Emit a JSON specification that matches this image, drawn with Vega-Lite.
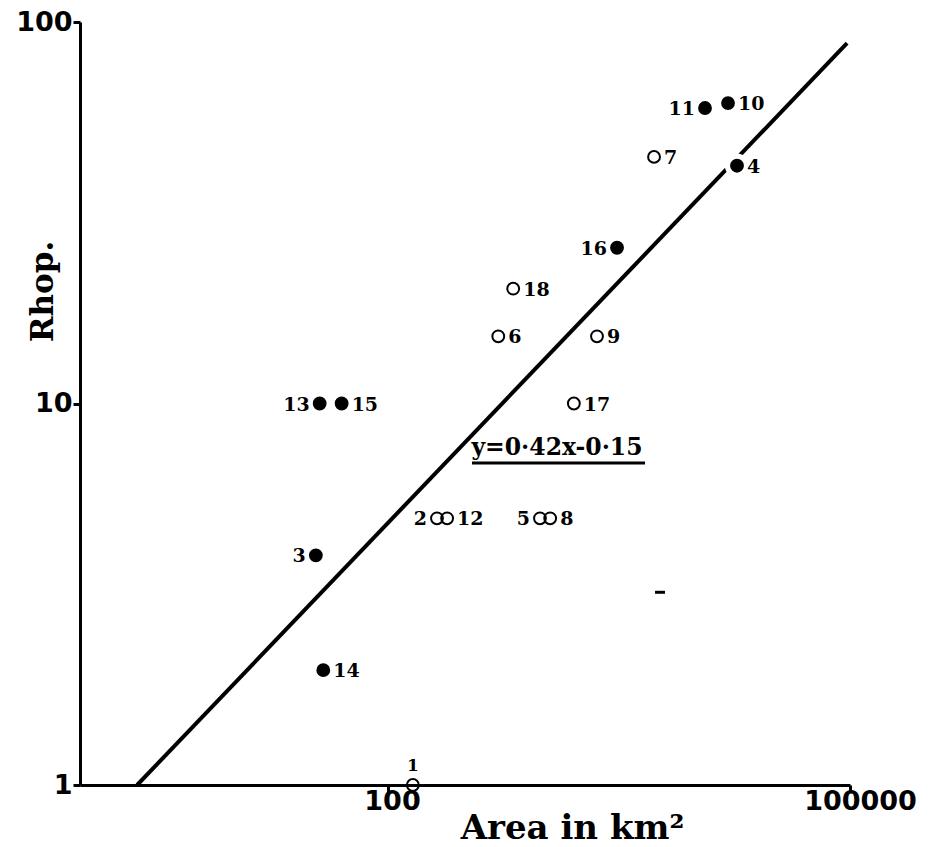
{
  "$schema": "https://vega.github.io/schema/vega-lite/v6.json",
  "width": 770,
  "height": 763,
  "autosize": {"type": "none"},
  "padding": {"left": 80, "top": 22, "right": 89, "bottom": 62},
  "background": "white",
  "config": {"view": {"stroke": null}},
  "datasets": {
    "stations": [
      {"id": "1", "area": 145, "rhop": 1, "symbol": "open"},
      {"id": "2", "area": 208, "rhop": 5, "symbol": "open"},
      {"id": "3", "area": 34, "rhop": 4, "symbol": "filled"},
      {"id": "4", "area": 18460, "rhop": 42, "symbol": "filled"},
      {"id": "5", "area": 970, "rhop": 5, "symbol": "open"},
      {"id": "6", "area": 520, "rhop": 15, "symbol": "open"},
      {"id": "7", "area": 5340, "rhop": 44.3, "symbol": "open"},
      {"id": "8", "area": 1130, "rhop": 5, "symbol": "open"},
      {"id": "9", "area": 2275, "rhop": 15, "symbol": "open"},
      {"id": "10", "area": 16140, "rhop": 61.3, "symbol": "filled"},
      {"id": "11", "area": 11440, "rhop": 59.5, "symbol": "filled"},
      {"id": "12", "area": 242, "rhop": 5, "symbol": "open"},
      {"id": "13", "area": 36, "rhop": 10, "symbol": "filled"},
      {"id": "14", "area": 38, "rhop": 2, "symbol": "filled"},
      {"id": "15", "area": 50, "rhop": 10, "symbol": "filled"},
      {"id": "16", "area": 3070, "rhop": 25.6, "symbol": "filled"},
      {"id": "17", "area": 1610, "rhop": 10, "symbol": "open"},
      {"id": "18", "area": 650, "rhop": 20, "symbol": "open"}
    ],
    "fit": [{"area": 2.35, "rhop": 1}, {"area": 95700, "rhop": 88}],
    "eq": [{"area": 1251, "rhop": 7.64, "label": "y=0·42x-0·15"}],
    "underline": [{"area": 351, "area2": 4667, "rhop": 6.98}],
    "speck": [{"area": 5420, "area2": 6290, "rhop": 3.2}]
  },
  "encoding": {
    "x": {
      "field": "area",
      "type": "quantitative",
      "scale": {"type": "log", "domain": [1, 100000]},
      "axis": {
        "title": "Area in km²",
        "values": [100, 100000],
        "format": "d",
        "grid": false,
        "labelFlush": false,
        "labelOverlap": false,
        "domainWidth": 3,
        "domainColor": "black",
        "tickColor": "black",
        "tickWidth": 3,
        "tickSize": 7,
        "encode": {"ticks": {"update": {"y2": {"value": -7}}}},
        "labelFont": "DejaVu Sans",
        "labelFontWeight": "bold",
        "labelFontSize": 27,
        "labelColor": "black",
        "labelPadding": -4,
        "labelOffset": {"condition": {"test": "datum.value == 100000", "value": 10}, "value": 4},
        "titleFont": "DejaVu Serif",
        "titleFontWeight": "bold",
        "titleFontSize": 34,
        "titleColor": "black",
        "titleX": 492,
        "titleY": 43,
        "titleAlign": "center",
        "titleBaseline": "middle"
      }
    },
    "y": {
      "field": "rhop",
      "type": "quantitative",
      "scale": {"type": "log", "domain": [1, 100]},
      "axis": {
        "title": "Rhop.",
        "values": [1, 10, 100],
        "format": "d",
        "grid": false,
        "labelOverlap": false,
        "labelFlush": false,
        "domainWidth": 3,
        "domainColor": "black",
        "tickColor": "black",
        "tickWidth": 3,
        "tickSize": 7,
        "encode": {"ticks": {"update": {"x2": {"value": 7}}}},
        "labelFont": "DejaVu Sans",
        "labelFontWeight": "bold",
        "labelFontSize": 27,
        "labelColor": "black",
        "labelPadding": 1,
        "titleFont": "DejaVu Serif",
        "titleFontWeight": "bold",
        "titleFontSize": 31,
        "titleColor": "black",
        "titleX": -37,
        "titleY": 269,
        "titleAngle": -90,
        "titleAlign": "center",
        "titleBaseline": "middle"
      }
    }
  },
  "layer": [
    {
      "data": {"name": "fit"},
      "mark": {"type": "line", "color": "black", "strokeWidth": 4, "clip": false},
      "encoding": {}
    },
    {
      "data": {"name": "stations"},
      "transform": [{"filter": "datum.id == '4'"}],
      "mark": {"type": "point", "shape": "circle", "size": 150, "filled": true, "fill": "white", "stroke": "white", "strokeWidth": 12, "opacity": 1},
      "encoding": {}
    },
    {
      "data": {"name": "stations"},
      "mark": {"type": "point", "shape": "circle", "size": 140, "filled": true, "stroke": "black", "strokeWidth": 2, "opacity": 1},
      "encoding": {
        "fill": {"field": "symbol", "type": "nominal", "scale": {"domain": ["filled", "open"], "range": ["black", "rgba(0,0,0,0)"]}, "legend": null}
      }
    },
    {
      "data": {"name": "stations"},
      "transform": [{"filter": "indexof(['13','3','2','5','16','11'], datum.id) >= 0"}],
      "mark": {"type": "text", "align": "right", "baseline": "middle", "dx": -10, "dy": 1, "font": "DejaVu Serif", "fontWeight": "bold", "fontSize": 19, "color": "black"},
      "encoding": {"text": {"field": "id"}}
    },
    {
      "data": {"name": "stations"},
      "transform": [{"filter": "indexof(['13','3','2','5','16','11','1'], datum.id) < 0"}],
      "mark": {"type": "text", "align": "left", "baseline": "middle", "dx": 10, "dy": 1, "font": "DejaVu Serif", "fontWeight": "bold", "fontSize": 19, "color": "black"},
      "encoding": {"text": {"field": "id"}}
    },
    {
      "data": {"name": "stations"},
      "transform": [{"filter": "datum.id == '1'"}],
      "mark": {"type": "text", "align": "center", "baseline": "middle", "dy": -19, "font": "DejaVu Serif", "fontWeight": "bold", "fontSize": 17, "color": "black"},
      "encoding": {"text": {"field": "id"}}
    },
    {
      "data": {"name": "eq"},
      "mark": {"type": "text", "align": "center", "baseline": "middle", "font": "DejaVu Serif", "fontWeight": "bold", "fontSize": 23.5, "color": "black"},
      "encoding": {"text": {"field": "label"}}
    },
    {
      "data": {"name": "underline"},
      "mark": {"type": "rule", "color": "black", "strokeWidth": 3},
      "encoding": {"x2": {"field": "area2"}}
    },
    {
      "data": {"name": "speck"},
      "mark": {"type": "rule", "color": "black", "strokeWidth": 3},
      "encoding": {"x2": {"field": "area2"}}
    }
  ]
}
